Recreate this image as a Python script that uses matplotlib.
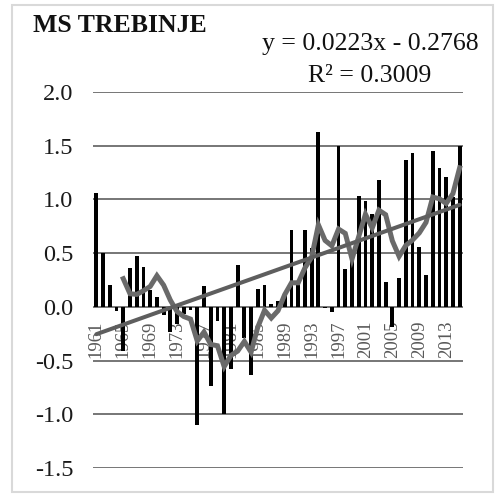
import matplotlib
matplotlib.use("Agg")
import matplotlib.pyplot as plt
from matplotlib.patches import Rectangle
import numpy as np
import pandas as pd

# ---- data ----
years = list(range(1961, 2016))
values = [1.06, 0.50, 0.20, -0.04, -0.41, 0.36, 0.47, 0.37, 0.16, 0.09,
          -0.08, -0.23, -0.16, -0.07, -0.03, -1.10, 0.19, -0.74, -0.13, -1.00,
          -0.58, 0.39, -0.29, -0.63, 0.17, 0.20, 0.03, 0.05, 0.12, 0.72,
          0.20, 0.72, 0.55, 1.63, -0.01, -0.05, 1.50, 0.35, 0.44, 1.03,
          0.99, 0.86, 1.18, 0.23, -0.19, 0.27, 1.37, 1.43, 0.56, 0.30,
          1.45, 1.29, 1.21, 1.02, 1.50]
trend_slope = 0.0223
trend_intercept = -0.2768
r_squared = 0.3009
ma_window = 5
title = "MS TREBINJE"
yticks = [-1.5, -1.0, -0.5, 0.0, 0.5, 1.0, 1.5, 2.0]

plt.rcParams['font.family'] = ['Liberation Serif', 'DejaVu Serif']

W, H = 496, 497
fig = plt.figure(figsize=(W / 100, H / 100), dpi=100)
fig.patch.set_facecolor('white')
fig.patches.append(Rectangle((12 / W, 5 / H), (493 - 12) / W, (492 - 5) / H,
                             transform=fig.transFigure, fill=False,
                             edgecolor='#d9d9d9', lw=1.5))

ax = fig.add_axes([93 / W, 1 - 468 / H, (463 - 93) / W, (468 - 92) / H])
x = np.arange(len(years))

ax.set_ylim(-1.5, 2.0)
ax.set_xlim(-0.5, len(years) - 0.5)
for yv in yticks:
    ax.axhline(yv, color='#767676', lw=1.4, zorder=1)

ax.bar(x, values, width=0.57, color='black', zorder=2)

ma = pd.Series(values).rolling(ma_window).mean()
ax.plot(x, ma, color='#6a6a6a', lw=3.6, zorder=3, solid_joinstyle='miter')

idx = x + 1
ax.plot(x, trend_slope * idx + trend_intercept, color='#5e5e5e', lw=2.9,
        zorder=4, solid_capstyle='round')

ax.set_yticks(yticks)
ax.set_yticklabels([f"{v:.1f}" for v in yticks], fontsize=17.5, color='#1a1a1a')
ax.tick_params(axis='y', length=0, pad=14)

ax.spines['bottom'].set_position(('data', 0))
for s in ax.spines.values():
    s.set_visible(False)
ax.set_xticks(x[::4])
ax.set_xticklabels([str(y) for y in years[::4]], rotation=90, fontsize=13.5,
                   color='#595959')
ax.tick_params(axis='x', length=0, pad=10)

fig.text(33 / W, 1 - 32 / H, title, fontsize=18.5, fontweight='bold',
         ha='left', va='baseline', color='#111111')
fig.text(370 / W, 1 - 50 / H, f"y = {trend_slope}x - {-trend_intercept}",
         fontsize=18.5, ha='center', va='baseline', color='#111111')
fig.text(370 / W, 1 - 82 / H, f"R² = {r_squared}",
         fontsize=18.5, ha='center', va='baseline', color='#111111')

fig.savefig('out.png', dpi=100)
